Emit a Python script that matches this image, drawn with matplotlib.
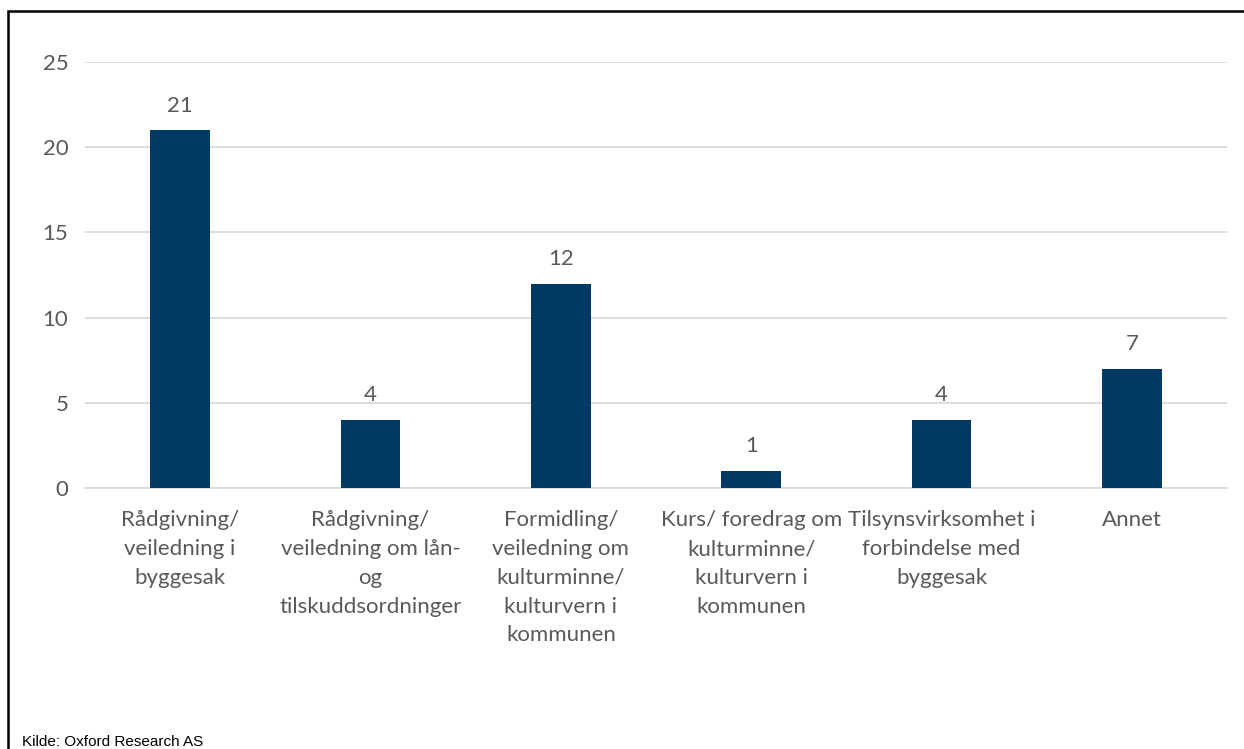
import matplotlib.pyplot as plt
from matplotlib.patches import Rectangle

categories = [
    "Rådgivning/\nveiledning i\nbyggesak",
    "Rådgivning/\nveiledning om lån-\nog\ntilskuddsordninger",
    "Formidling/\nveiledning om\nkulturminne/\nkulturvern i\nkommunen",
    "Kurs/ foredrag om\nkulturminne/\nkulturvern i\nkommunen",
    "Tilsynsvirksomhet i\nforbindelse med\nbyggesak",
    "Annet",
]
values = [21, 4, 12, 1, 4, 7]
yticks = [0, 5, 10, 15, 20, 25]

BAR_COLOR = "#003A63"
TEXT_COLOR = "#595959"
GRID_COLOR = "#D9D9D9"
FS = 16

plt.rcParams["font.family"] = ["Lato", "DejaVu Sans"]

W, H = 1244, 749
fig = plt.figure(figsize=(W / 100, H / 100), dpi=100)

# plot area in pixels: x 85..1227, y 62 (25) .. 488 (0)
ax = fig.add_axes([85 / W, 1 - 488 / H, (1227 - 85) / W, (488 - 62) / H])

x = range(len(values))
ax.bar(x, values, width=0.315, color=BAR_COLOR, zorder=3)

for xi, v in zip(x, values):
    ax.text(xi, v + 0.85, str(v), ha="center", va="bottom",
            fontsize=FS, color=TEXT_COLOR)

ax.set_xlim(-0.5, len(values) - 0.5)
ax.set_ylim(0, 25)
ax.set_yticks(yticks)
ax.set_yticklabels([str(t) for t in yticks], fontsize=FS, color=TEXT_COLOR)
ax.set_xticks(list(x))
ax.set_xticklabels(categories, fontsize=FS, color=TEXT_COLOR, linespacing=1.55)
ax.tick_params(axis="both", length=0)
ax.tick_params(axis="y", pad=12)
ax.tick_params(axis="x", pad=16)

ax.grid(axis="y", color=GRID_COLOR, linewidth=1.3, zorder=0)
for s in ["top", "right", "left"]:
    ax.spines[s].set_visible(False)
ax.spines["bottom"].set_color(GRID_COLOR)
ax.spines["bottom"].set_linewidth(1.3)

# outer frame
fig.patches.append(Rectangle((8 / W, -0.05), 1.2, 1 - 11 / H + 0.05,
                             transform=fig.transFigure, fill=False,
                             edgecolor="black", linewidth=1.8))

fig.text(22 / W, 1 - 746 / H, "Kilde: Oxford Research AS",
         fontsize=11, color="black", family=["Liberation Sans Narrow", "Liberation Sans"],
         va="baseline")

fig.savefig("out.png", dpi=100)
